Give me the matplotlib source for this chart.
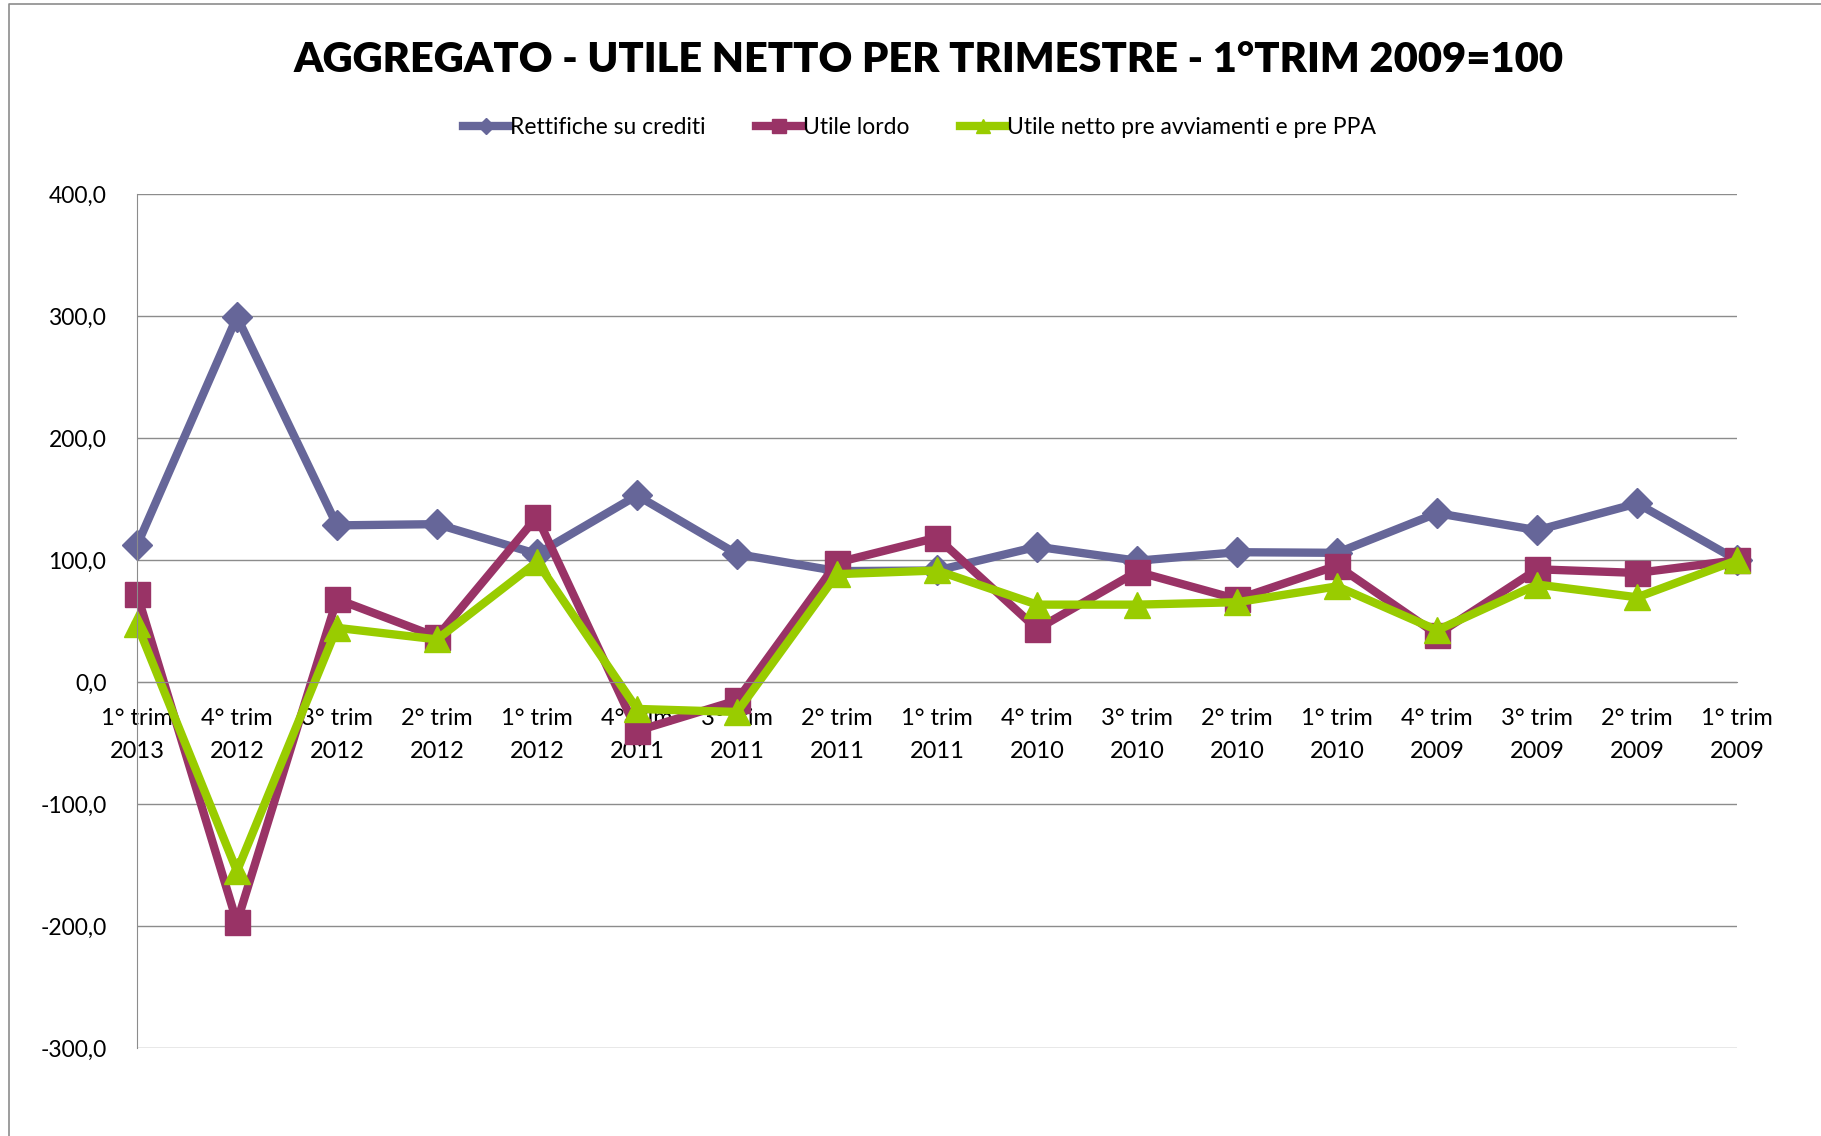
import matplotlib.pyplot as plt
from matplotlib.lines import Line2D

plt.rcParams['font.family'] = ['Lato', 'DejaVu Sans']

# quarters, newest first (as in the original sheet)
trimestri = ["1° trim\n2013", "4° trim\n2012", "3° trim\n2012", "2° trim\n2012", "1° trim\n2012",
             "4° trim\n2011", "3° trim\n2011", "2° trim\n2011", "1° trim\n2011", "4° trim\n2010",
             "3° trim\n2010", "2° trim\n2010", "1° trim\n2010", "4° trim\n2009", "3° trim\n2009",
             "2° trim\n2009", "1° trim\n2009"]

rettifiche = [112, 299.5, 128.5, 129.5, 105, 153, 105, 91, 91.5, 111, 99.5, 106.5, 106, 138.5, 124.5, 146.5, 100]
utile_lordo = [72.5, -197, 68, 37, 135.5, -40, -15, 98, 118.5, 43.5, 90.5, 68, 95.5, 39, 92.5, 89.5, 100]
utile_netto = [47.5, -155, 44.5, 35, 98.5, -22, -24.5, 88.5, 91.5, 63.5, 63.5, 65.5, 78.5, 42.5, 80, 69.5, 100]

fig = plt.figure(figsize=(18.21, 11.36), dpi=100)
ax = fig.add_axes([0.0752, 0.0775, 0.8788, 0.7515])

# axis line crosses at zero, like the excel original
for s in ['top', 'right']:
    ax.spines[s].set_visible(False)
ax.spines['bottom'].set_position(('data', 0))
ax.spines['bottom'].set_color('#8c8c8c')
ax.spines['left'].set_color('#8c8c8c')

x = list(range(len(trimestri)))
ax.plot(x, rettifiche, color='#666699', lw=6, marker='D', ms=15, clip_on=False, label='Rettifiche su crediti')
ax.plot(x, utile_lordo, color='#993366', lw=6, marker='s', ms=18, clip_on=False, label='Utile lordo')
ax.plot(x, utile_netto, color='#99CC00', lw=6, marker='^', ms=19, clip_on=False,
        label='Utile netto pre avviamenti e pre PPA')

ax.set_xlim(0, len(trimestri) - 1)
ax.set_ylim(-300, 400)
ax.set_yticks(range(-300, 401, 100))
ax.set_yticklabels([f"{v:.1f}".replace('.', ',') for v in range(-300, 401, 100)])
ax.set_xticks(x)
ax.set_xticklabels(trimestri, linespacing=1.65)
ax.tick_params(axis='both', length=0, labelsize=17)
ax.tick_params(axis='y', pad=22, labelsize=16.5)
ax.tick_params(axis='x', pad=19)

ax.yaxis.grid(True, color='#8c8c8c', lw=1)
ax.set_axisbelow(True)

fig.text(0.51, 0.947, "AGGREGATO - UTILE NETTO PER TRIMESTRE - 1°TRIM 2009=100",
         ha='center', va='center', fontsize=30, fontweight='heavy')

handles = [Line2D([], [], color='#666699', lw=6, marker='D', ms=8),
           Line2D([], [], color='#993366', lw=6, marker='s', ms=10),
           Line2D([], [], color='#99CC00', lw=6, marker='^', ms=10)]
fig.legend(handles, ['Rettifiche su crediti', 'Utile lordo', 'Utile netto pre avviamenti e pre PPA'],
           loc='center', bbox_to_anchor=(0.505, 0.888), ncol=3, frameon=False, fontsize=16.5,
           handlelength=2.0, handletextpad=0.05, columnspacing=2.2)

# chart area frame (only top and left edges are visible in the crop)
fig.add_artist(Line2D([0.005, 0.005, 1.0], [0.0, 0.9965, 0.9965], color='#8c8c8c', lw=1.2,
                      transform=fig.transFigure))

fig.savefig('out.png', dpi=100)
